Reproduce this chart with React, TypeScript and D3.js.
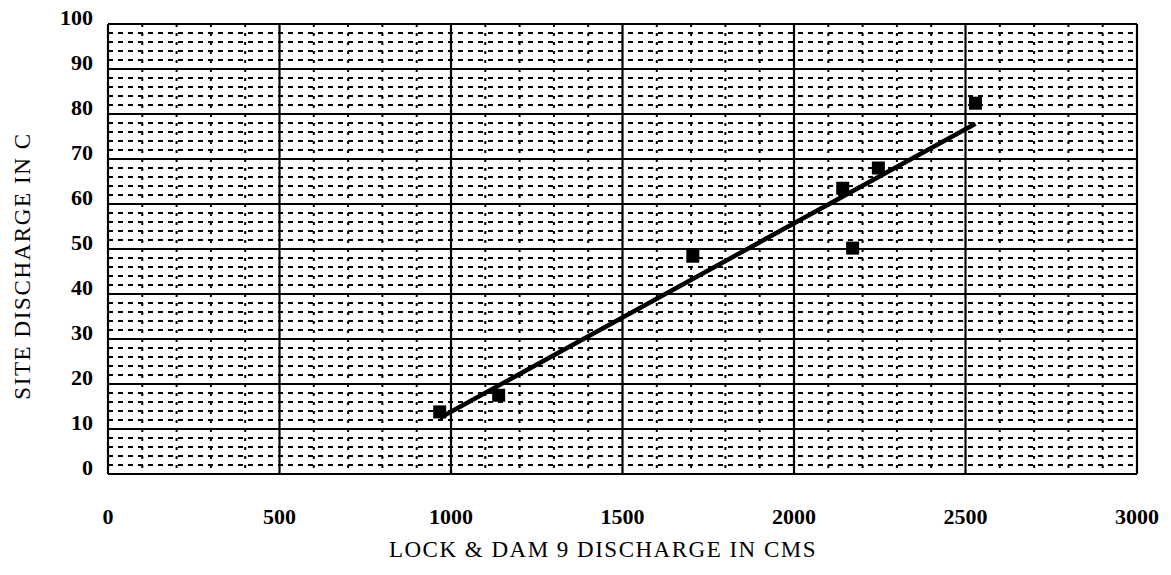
import React, { useRef, useEffect } from "react";
import * as d3 from "d3";

// lock & dam 9 discharge (cms) vs site discharge in C
const damDischarge = [967, 1139, 1705, 2142, 2171, 2246, 2529];
const siteDischarge = [13.8, 17.5, 48.4, 63.5, 50.2, 68, 82.4];
const xTicks = [0, 500, 1000, 1500, 2000, 2500, 3000];
const yTicks = [0, 10, 20, 30, 40, 50, 60, 70, 80, 90, 100];

const width = 1171;
const height = 575;
const margin = { top: 24, right: 34, bottom: 101, left: 108 };
const font = "'Liberation Serif', 'Times New Roman', serif";

const App = () => {
  const ref = useRef<SVGSVGElement>(null);

  useEffect(() => {
    const svg = d3.select(ref.current);
    svg.selectAll("*").remove();

    const x = d3
      .scaleLinear()
      .domain([0, 3000])
      .range([margin.left, width - margin.right]);
    const y = d3
      .scaleLinear()
      .domain([0, 100])
      .range([height - margin.bottom, margin.top]);

    const grid = svg.append("g");

    // minor verticals every 100
    grid
      .selectAll(".vminor")
      .data(d3.range(100, 3000, 100).filter((v) => v % 500 !== 0))
      .enter()
      .append("line")
      .attr("x1", (d) => x(d))
      .attr("x2", (d) => x(d))
      .attr("y1", y(100))
      .attr("y2", y(0))
      .attr("stroke", "#000")
      .attr("stroke-width", 2)
      .attr("stroke-dasharray", "3,6");

    // minor horizontals every 2
    grid
      .selectAll(".hminor")
      .data(d3.range(2, 100, 2).filter((v) => v % 10 !== 0))
      .enter()
      .append("line")
      .attr("x1", x(0))
      .attr("x2", x(3000))
      .attr("y1", (d) => y(d))
      .attr("y2", (d) => y(d))
      .attr("stroke", "#000")
      .attr("stroke-width", 2.2)
      .attr("stroke-dasharray", "5,5");

    // major lines
    grid
      .selectAll(".vmajor")
      .data(xTicks)
      .enter()
      .append("line")
      .attr("x1", (d) => x(d))
      .attr("x2", (d) => x(d))
      .attr("y1", y(100))
      .attr("y2", y(0))
      .attr("stroke", "#000")
      .attr("stroke-width", 2.2);
    grid
      .selectAll(".hmajor")
      .data(yTicks)
      .enter()
      .append("line")
      .attr("x1", x(0))
      .attr("x2", x(3000))
      .attr("y1", (d) => y(d))
      .attr("y2", (d) => y(d))
      .attr("stroke", "#000")
      .attr("stroke-width", 2.2);

    // tick labels
    svg
      .append("g")
      .selectAll("text")
      .data(yTicks)
      .enter()
      .append("text")
      .attr("x", 93)
      .attr("y", (d) => y(d) + 1)
      .attr("text-anchor", "end")
      .style("font-family", font)
      .attr("font-weight", "bold")
      .attr("font-size", 22)
      .text((d) => d);

    svg
      .append("g")
      .selectAll("text")
      .data(xTicks)
      .enter()
      .append("text")
      .attr("x", (d) => x(d))
      .attr("y", 524)
      .attr("text-anchor", "middle")
      .style("font-family", font)
      .attr("font-weight", "bold")
      .attr("font-size", 22)
      .text((d) => d);

    // axis titles
    svg
      .append("text")
      .attr("x", 603)
      .attr("y", 557)
      .attr("text-anchor", "middle")
      .style("font-family", font)
      .style("letter-spacing", "1.5px")
      .attr("font-size", 23)
      .text("LOCK & DAM 9 DISCHARGE IN CMS");
    svg
      .append("text")
      .attr("transform", `translate(30,${y(50) + 17}) rotate(-90)`)
      .attr("text-anchor", "middle")
      .style("font-family", font)
      .style("letter-spacing", "1.6px")
      .attr("font-size", 23)
      .text("SITE DISCHARGE IN C");

    // least squares trend line
    const mx = d3.mean(damDischarge) as number;
    const my = d3.mean(siteDischarge) as number;
    const sxy = d3.sum(damDischarge, (v, i) => (v - mx) * (siteDischarge[i] - my));
    const sxx = d3.sum(damDischarge, (v) => (v - mx) * (v - mx));
    const slope = sxy / sxx;
    const icpt = my - slope * mx;
    const [x0, x1] = d3.extent(damDischarge) as [number, number];
    svg
      .append("line")
      .attr("x1", x(x0))
      .attr("y1", y(icpt + slope * x0))
      .attr("x2", x(x1))
      .attr("y2", y(icpt + slope * x1))
      .attr("stroke", "#000")
      .attr("stroke-width", 4.5);

    // points
    const s = 13;
    svg
      .selectAll(".pt")
      .data(damDischarge)
      .enter()
      .append("rect")
      .attr("x", (d) => x(d) - s / 2)
      .attr("y", (d, i) => y(siteDischarge[i]) - s / 2)
      .attr("width", s)
      .attr("height", s)
      .attr("fill", "#000");
  }, []);

  return (
    <svg
      ref={ref}
      width={width}
      height={height}
      style={{ position: "absolute", left: 0, top: 0, background: "#fff" }}
    ></svg>
  );
};

export default App;
